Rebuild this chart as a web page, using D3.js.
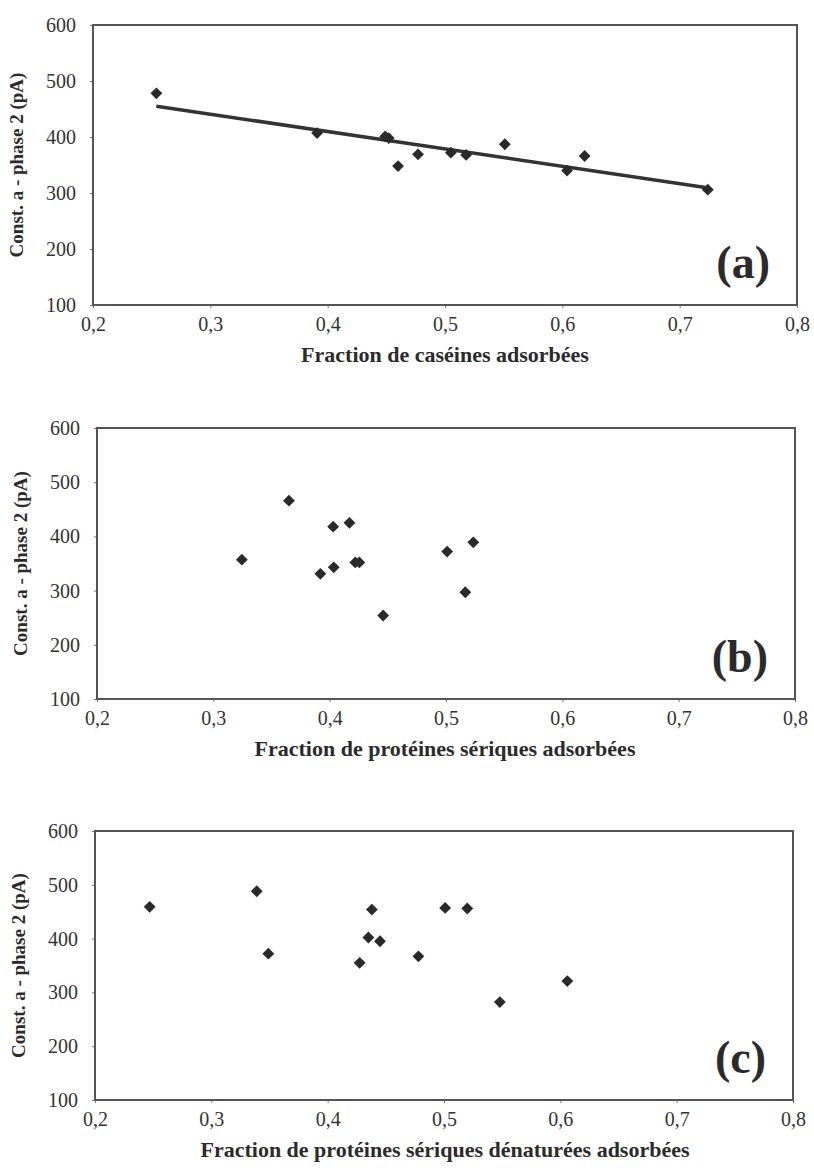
<!DOCTYPE html>
<html>
<head>
<meta charset="utf-8">
<script src="https://cdn.jsdelivr.net/npm/d3@7"></script>
<style>
  body { margin: 0; background: #fff; }
  svg { display: block; }
  text { font-family: "Liberation Serif", "LiberationSerif", Times, "DejaVu Serif", serif; fill: #2b2b2b; }
</style>
</head>
<body>
<svg id="chart"></svg>
<script>
var width = 814;
var height = 1174;

// x domain & ticks (same for the three panels)
var xTicks = [0.2, 0.3, 0.4, 0.5, 0.6, 0.7, 0.8];
var yTicks = [100, 200, 300, 400, 500, 600];
var yTitle = "Const. a - phase 2 (pA)";

// (a) caseins
var caseinX = [0.254, 0.391, 0.449, 0.452, 0.460, 0.477, 0.505, 0.518, 0.551, 0.604, 0.619, 0.724];
var caseinY = [478, 407, 401, 398, 348, 369, 372, 368, 387, 340, 366, 306];
var trendX = [0.254, 0.722];
var trendY = [455, 310];

// (b) serum proteins
var serumX = [0.3245, 0.365, 0.392, 0.4035, 0.403, 0.417, 0.422, 0.4255, 0.446, 0.501, 0.5166, 0.5235];
var serumY = [357, 466, 331, 343, 418, 425, 352, 352, 254, 372, 297, 389];

// (c) denatured serum proteins
var denatX = [0.247, 0.339, 0.349, 0.4275, 0.435, 0.438, 0.445, 0.478, 0.501, 0.520, 0.548, 0.606];
var denatY = [459, 488, 372, 355, 402, 454, 395, 367, 457, 456, 282, 321];

var xTitles = [
    "Fraction de caséines adsorbées",
    "Fraction de protéines sériques adsorbées",
    "Fraction de protéines sériques dénaturées adsorbées"
];
var letters = ["(a)", "(b)", "(c)"];

// plot rectangles (layout only)
var panels = [
    { left: 93, right: 797, top: 25, bottom: 305, xs: caseinX, ys: caseinY, trend: true },
    { left: 97, right: 795, top: 428, bottom: 699, xs: serumX, ys: serumY, trend: false },
    { left: 95, right: 793, top: 831, bottom: 1100, xs: denatX, ys: denatY, trend: false }
];

var fr = d3.formatLocale({ decimal: ",", thousands: " ", grouping: [3], currency: ["", ""] });
var fmtX = fr.format(".1f");

var svg = d3.select("#chart")
    .attr("width", width)
    .attr("height", height);

panels.forEach(function(p, i) {
    var x = d3.scaleLinear().domain([0.2, 0.8]).range([p.left, p.right]);
    var y = d3.scaleLinear().domain([100, 600]).range([p.bottom, p.top]);

    var g = svg.append("g");

    // x axis
    var xAxis = d3.axisBottom(x).tickValues(xTicks).tickFormat(fmtX).tickSize(3).tickPadding(9);
    var gx = g.append("g").attr("transform", "translate(0," + p.bottom + ")").call(xAxis);
    gx.attr("font-family", null);
    gx.select(".domain").remove();
    gx.selectAll(".tick line").attr("stroke", "#777");
    gx.selectAll("text").attr("font-size", "20px").style("fill", "#333");

    // y axis
    var yAxis = d3.axisLeft(y).tickValues(yTicks).tickSize(3).tickPadding(14);
    var gy = g.append("g").attr("transform", "translate(" + p.left + ",0)").call(yAxis);
    gy.attr("font-family", null);
    gy.select(".domain").remove();
    gy.selectAll(".tick line").attr("stroke", "#777");
    gy.selectAll("text").attr("font-size", "20px").style("fill", "#333");

    // frame
    g.append("rect")
        .attr("x", p.left).attr("y", p.top)
        .attr("width", p.right - p.left).attr("height", p.bottom - p.top)
        .attr("fill", "none").attr("stroke", "#555").attr("stroke-width", 2);

    // trend line (panel a only)
    if (p.trend) {
        var pts = trendX.map(function(v, k) { return [v, trendY[k]]; });
        g.append("path")
            .datum(pts)
            .attr("d", d3.line().x(function(d) { return x(d[0]); }).y(function(d) { return y(d[1]); }))
            .attr("stroke", "#333").attr("stroke-width", 3.5).attr("fill", "none");
    }

    // points
    var data = p.xs.map(function(v, k) { return { x: v, y: p.ys[k] }; });
    g.selectAll(".pt")
        .data(data)
        .enter()
        .append("path")
            .attr("class", "pt")
            .attr("d", d3.symbol().type(d3.symbolSquare).size(70))
            .attr("transform", function(d) { return "translate(" + x(d.x) + "," + y(d.y) + ") rotate(45)"; })
            .attr("fill", "#2a2a2a");

    // y title
    g.append("text")
        .attr("transform", "translate(" + (p.left - 70) + "," + ((p.top + p.bottom) / 2) + ") rotate(-90)")
        .attr("text-anchor", "middle")
        .attr("font-size", "19px")
        .attr("font-weight", "bold")
        .text(yTitle);

    // x title
    g.append("text")
        .attr("x", 445)
        .attr("y", p.bottom + 57)
        .attr("text-anchor", "middle")
        .attr("font-size", "22px")
        .attr("font-weight", "bold")
        .text(xTitles[i]);

    // panel letter
    g.append("text")
        .attr("x", p.right - 27)
        .attr("y", p.bottom - 27)
        .attr("text-anchor", "end")
        .attr("font-size", "46px")
        .attr("font-weight", "bold")
        .text(letters[i]);
});
</script>
</body>
</html>
